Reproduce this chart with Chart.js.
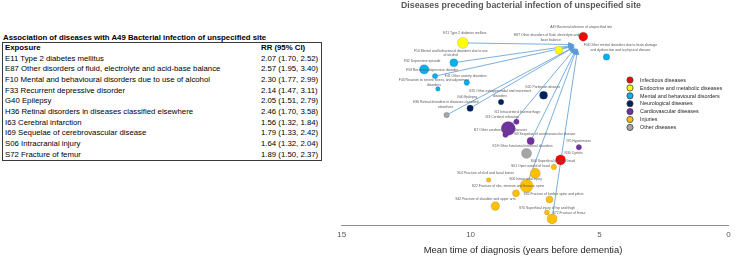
<!DOCTYPE html>
<html><head><meta charset="utf-8">
<script src="https://cdn.jsdelivr.net/npm/chart.js@4.4.1/dist/chart.umd.min.js"></script>
<style>
html,body{margin:0;padding:0;background:#fff;width:736px;height:257px;overflow:hidden;font-family:"Liberation Sans",Arial,sans-serif;}
#tblTitle{position:absolute;left:3px;top:33px;font-weight:bold;font-size:7.8px;line-height:9px;color:#000;white-space:nowrap;}
#tbl{position:absolute;left:2px;top:42px;width:320px;border-collapse:collapse;border:1px solid #3a3a3a;font-size:7.8px;color:#000;}
#tbl td{padding:0 0 0 2px;height:10.65px;line-height:10.65px;white-space:nowrap;}
#tbl td.c1{width:254px}
#tbl tr.h td{font-weight:bold}
#wrap{position:absolute;left:330px;top:0;width:406px;height:257px}
</style></head>
<body>
<div id="tblTitle"></div>
<table id="tbl"></table>
<div id="wrap"><canvas id="c" width="406" height="257"></canvas></div>
<script>
// ---------------- DATA ----------------
const tableTitle = "Association of diseases with A49 Bacterial infection of unspecified site";
const tableHeader = ["Exposure", "RR (95% CI)"];
const tableExposure = [
  "E11 Type 2 diabetes mellitus",
  "E87 Other disorders of fluid, electrolyte and acid-base balance",
  "F10 Mental and behavioural disorders due to use of alcohol",
  "F33 Recurrent depressive disorder",
  "G40 Epilepsy",
  "H36 Retinal disorders in diseases classified elsewhere",
  "I63 Cerebral infarction",
  "I69 Sequelae of cerebrovascular disease",
  "S06 Intracranial injury",
  "S72 Fracture of femur"
];
const tableCodes = ["E11","E87","F10","F33","G40","H36","I63","I69","S06","S72"];
const tableRR = [
  "2.07 (1.70, 2.52)","2.57 (1.95, 3.40)","2.30 (1.77, 2.99)","2.14 (1.47, 3.11)","2.05 (1.51, 2.79)",
  "2.46 (1.70, 3.58)","1.56 (1.32, 1.84)","1.79 (1.33, 2.42)","1.64 (1.32, 2.04)","1.89 (1.50, 2.37)"
];

const categories = ["Infectious diseases","Endocrine and metabolic diseases","Mental and behavioural disorders",
  "Neurological diseases","Cardiovascular diseases","Injuries","Other diseases"];

const codes = ["A49","E11","E87","F06","F10","F32","F33","F41","F43","G20","G25","G40","H36",
  "I61","I63","I67","I69","I95","K59","N30","S00","S01","S02","S06","S22","S32","S42","S70","S72"];
const diseaseNames = [
  "A49 Bacterial infection of unspecified site",
  "E11 Type 2 diabetes mellitus",
  "E87 Other disorders of fluid, electrolyte and acid-\nbase balance",
  "F06 Other mental disorders due to brain damage\nand dysfunction and to physical disease",
  "F10 Mental and behavioural disorders due to use\nof alcohol",
  "F32 Depressive episode",
  "F33 Recurrent depressive disorder",
  "F41 Other anxiety disorders",
  "F43 Reaction to severe stress, and adjustment\ndisorders",
  "G20 Parkinson disease",
  "G25 Other extrapyramidal and movement\ndisorders",
  "G40 Epilepsy",
  "H36 Retinal disorders in diseases classified\nelsewhere",
  "I61 Intracerebral haemorrhage",
  "I63 Cerebral infarction",
  "I67 Other cerebrovascular diseases",
  "I69 Sequelae of cerebrovascular disease",
  "I95 Hypotension",
  "K59 Other functional intestinal disorders",
  "N30 Cystitis",
  "S00 Superficial injury of head",
  "S01 Open wound of head",
  "S02 Fracture of skull and facial bones",
  "S06 Intracranial injury",
  "S22 Fracture of ribs, sternum and thoracic spine",
  "S32 Fracture of lumbar spine and pelvis",
  "S42 Fracture of shoulder and upper arm",
  "S70 Superficial injury of hip and thigh",
  "S72 Fracture of femur"
];
// mean time of diagnosis, years before dementia
const meanYears = [5.63,10.30,6.58,4.73,10.65,11.80,11.38,10.15,11.27,7.17,8.82,10.02,10.93,
  8.22,8.54,8.65,7.67,5.80,7.83,6.51,6.77,7.49,9.30,7.83,8.24,6.94,9.04,7.04,6.84];
// vertical placement (arbitrary units)
const verticalRank = [89.7,86.7,83.3,80.0,77.3,74.1,70.9,67.8,64.8,61.8,58.6,55.6,52.4,
  49.2,46.0,43.0,40.0,37.0,34.1,31.0,27.6,24.6,21.4,18.6,15.1,12.2,9.0,6.0,2.9];
// relative bubble magnitude
const bubbleMagnitude = [4.5,5.5,4.0,3.3,4.0,4.7,2.7,2.8,2.3,4.0,2.8,3.2,2.8,
  2.7,7.0,2.7,3.7,2.7,5.0,5.0,2.7,5.0,2.3,6.5,3.5,3.5,4.3,2.5,5.0];
const groupIndex = [0,1,1,2,2,2,2,2,2,3,3,3,6,4,4,4,4,4,6,0,5,5,5,5,5,5,5,5,5];
const targetCode = "A49";
const xTickValues = [15,10,5,0];
const chartTitle = "Diseases preceding bacterial infection of unspecified site";
const xAxisTitle = "Mean time of diagnosis (years before dementia)";

// ---------------- STYLE ----------------
const catColors = ["#FF0000","#FFFF00","#00B0F0","#002060","#7030A0","#FFC000","#A5A5A5"];
// label offsets (px) from bubble centre to label centre
const labelOffset = {
  A49:[-2,-9.5],E11:[2,-10],E87:[-8,-15],F06:[14,-12],F10:[-3,-12],F32:[-2,-8],F33:[-3,-6],
  F41:[-1,-7],F43:[-4,-9],G20:[-1,-8.6],G25:[-1,-11],G40:[-3,-11],H36:[-1,-12.7],
  I61:[1,-10],I63:[-6,-11],I67:[-5,-4.7],I69:[14,-7],I95:[0,-6],K59:[-4,-7],N30:[13,-7],
  S00:[-1,-6],S01:[-5,-7],S02:[-3,-7],S06:[-1,-7],S22:[-8,-7],S32:[4,-5],S42:[-10,-7],
  S70:[0,-4.5],S72:[17,-6]
};

// ---------------- TABLE ----------------
document.getElementById('tblTitle').textContent = tableTitle;
const tbl = document.getElementById('tbl');
function addRow(a,b,cls){const tr=document.createElement('tr');if(cls)tr.className=cls;
  const t1=document.createElement('td');t1.className='c1';t1.textContent=a;
  const t2=document.createElement('td');t2.textContent=b;tr.appendChild(t1);tr.appendChild(t2);tbl.appendChild(tr);}
addRow(tableHeader[0],tableHeader[1],'h');
tableExposure.forEach((e,i)=>addRow(e,tableRR[i]));

// ---------------- CHART ----------------
const datasets = categories.map((cat,ci)=>({
  label:cat,
  data: codes.map((c,i)=>({x:meanYears[i],y:verticalRank[i],r:bubbleMagnitude[i],code:c,idx:i}))
             .filter(p=>groupIndex[p.idx]===ci),
  backgroundColor:catColors[ci],
  borderColor:'rgba(90,90,90,0.35)',
  borderWidth:0.6,
  hoverRadius:0
}));

const overlay = {
  id:'overlay',
  beforeDatasetsDraw(chart){
    const ctx=chart.ctx, xs=chart.scales.x, ys=chart.scales.y;
    const ti=codes.indexOf(targetCode);
    const tx=xs.getPixelForValue(meanYears[ti])-5, ty=ys.getPixelForValue(verticalRank[ti])+8;
    ctx.save();
    ctx.strokeStyle='#5B9BD5';ctx.fillStyle='#5B9BD5';ctx.lineWidth=0.8;
    tableCodes.forEach(code=>{
      const i=codes.indexOf(code); if(i<0)return;
      const sx=xs.getPixelForValue(meanYears[i]), sy=ys.getPixelForValue(verticalRank[i]);
      const dx=tx-sx, dy=ty-sy, L=Math.hypot(dx,dy), ux=dx/L, uy=dy/L;
      const ex=tx-ux*4, ey=ty-uy*4;
      ctx.beginPath();ctx.moveTo(sx,sy);ctx.lineTo(ex-ux*4,ey-uy*4);ctx.stroke();
      ctx.beginPath();ctx.moveTo(ex,ey);
      ctx.lineTo(ex-ux*6-uy*2.6, ey-uy*6+ux*2.6);
      ctx.lineTo(ex-ux*6+uy*2.6, ey-uy*6-ux*2.6);
      ctx.closePath();ctx.fill();
    });
    ctx.restore();
  },
  afterDatasetsDraw(chart){
    const ctx=chart.ctx, xs=chart.scales.x, ys=chart.scales.y;
    ctx.save();
    ctx.fillStyle='#595959';ctx.font='3.4px "Liberation Sans", Arial, sans-serif';
    ctx.textAlign='center';ctx.textBaseline='middle';
    codes.forEach((c,i)=>{
      const px=xs.getPixelForValue(meanYears[i]), py=ys.getPixelForValue(verticalRank[i]);
      const o=labelOffset[c]||[0,-8];
      diseaseNames[i].split('\n').forEach((ln,k)=>ctx.fillText(ln,px+o[0],py+o[1]+k*4.7));
    });
    ctx.font='5.4px "Liberation Sans", Arial, sans-serif';ctx.textAlign='left';
    categories.forEach((cat,ci)=>{
      const y=80+ci*7.9;
      ctx.beginPath();ctx.arc(300,y,3.1,0,Math.PI*2);ctx.fillStyle=catColors[ci];ctx.fill();
      ctx.lineWidth=0.8;ctx.strokeStyle='#404040';ctx.stroke();
      ctx.fillStyle='#262626';ctx.fillText(cat,310,y+0.3);
    });
    ctx.textAlign='center';ctx.fillStyle='#595959';
    ctx.font='bold 8.8px "Liberation Sans", Arial, sans-serif';
    ctx.fillText(chartTitle,191,6);
    ctx.fillStyle='#262626';ctx.font='9.4px "Liberation Sans", Arial, sans-serif';
    ctx.fillText(xAxisTitle,193,250);
    ctx.restore();
  }
};

new Chart(document.getElementById('c'),{
  type:'bubble',
  data:{datasets},
  plugins:[overlay],
  options:{
    responsive:false,animation:false,devicePixelRatio:1,
    events:[],
    layout:{padding:{left:11.7,right:3.7,top:15,bottom:0}},
    plugins:{legend:{display:false},tooltip:{enabled:false},title:{display:false}},
    scales:{
      x:{type:'linear',reverse:true,min:0,max:15,
        afterBuildTicks:s=>{s.ticks=xTickValues.map(v=>({value:v}));},
        afterFit:s=>{s.height=32;},
        grid:{display:false,drawTicks:false},
        border:{display:true,color:'#8c8c8c',width:1},
        ticks:{padding:5,color:'#595959',font:{size:8,family:'"Liberation Sans", Arial, sans-serif'},maxRotation:0}
      },
      y:{display:false,min:0,max:100}
    }
  }
});
</script>
</body></html>
